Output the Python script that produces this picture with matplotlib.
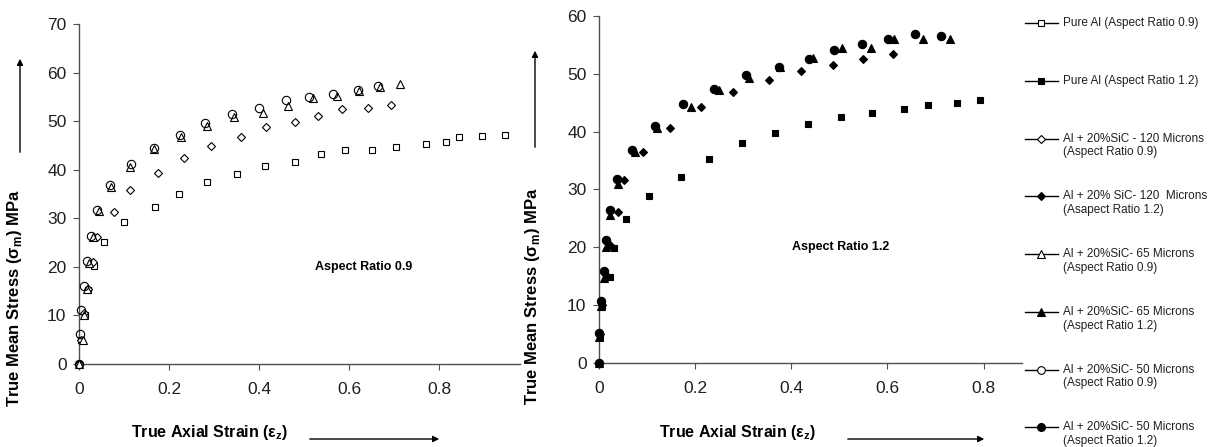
import matplotlib
matplotlib.use('Agg')
import matplotlib.pyplot as plt
from matplotlib.lines import Line2D

plt.rcParams['font.family'] = ['Liberation Sans', 'DejaVu Sans']

# aspect ratio 0.9 series
al09_x = [0, 0.004, 0.013, 0.021, 0.033, 0.055, 0.101, 0.168, 0.222, 0.284, 0.350, 0.414,
          0.479, 0.537, 0.591, 0.652, 0.705, 0.770, 0.816, 0.844, 0.895, 0.947]
al09_y = [0, 4.9, 10.1, 15.2, 20.2, 25.1, 29.2, 32.4, 35.1, 37.4, 39.2, 40.8,
          41.5, 43.2, 44.1, 44.1, 44.7, 45.3, 45.8, 46.8, 46.9, 47.1]
sic120_09_x = [0, 0.004, 0.012, 0.020, 0.030, 0.040, 0.077, 0.114, 0.176, 0.234, 0.294,
               0.359, 0.415, 0.479, 0.532, 0.585, 0.642, 0.693]
sic120_09_y = [0, 5.0, 10.4, 15.5, 21.0, 26.1, 31.3, 35.8, 39.3, 42.4, 44.9,
               46.7, 48.7, 49.8, 51.1, 52.4, 52.8, 53.3]
sic65_09_x = [0, 0.0096, 0.011, 0.0185, 0.023, 0.032, 0.045, 0.070, 0.114, 0.167, 0.226,
              0.284, 0.345, 0.409, 0.464, 0.519, 0.573, 0.622, 0.668, 0.713]
sic65_09_y = [0, 4.9, 10.1, 15.4, 20.7, 26.1, 31.4, 36.5, 40.6, 44.2, 46.8,
              48.9, 50.9, 51.7, 53.1, 54.8, 55.1, 56.3, 57.0, 57.6]
sic50_09_x = [0, 0.003, 0.005, 0.012, 0.018, 0.026, 0.041, 0.069, 0.116, 0.166, 0.225,
              0.281, 0.341, 0.401, 0.459, 0.512, 0.564, 0.621, 0.665]
sic50_09_y = [0, 6.1, 11.1, 16.1, 21.2, 26.4, 31.7, 36.8, 41.2, 44.4, 47.2,
              49.6, 51.4, 52.8, 54.4, 55.0, 55.6, 56.4, 57.2]

# aspect ratio 1.2 series
al12_x = [0, 0.002, 0.006, 0.022, 0.032, 0.057, 0.105, 0.170, 0.228, 0.297, 0.367, 0.435,
          0.503, 0.567, 0.635, 0.684, 0.745, 0.793]
al12_y = [0, 4.4, 9.8, 14.9, 19.8, 24.8, 28.9, 32.2, 35.3, 38.0, 39.7, 41.3,
          42.5, 43.2, 43.9, 44.6, 45.0, 45.5]
sic120_12_x = [0, 0.003, 0.007, 0.014, 0.022, 0.040, 0.053, 0.092, 0.148, 0.213, 0.278,
               0.353, 0.421, 0.487, 0.549, 0.611]
sic120_12_y = [0, 4.9, 10.0, 15.2, 20.3, 26.1, 31.6, 36.5, 40.7, 44.3, 46.8,
               48.9, 50.4, 51.5, 52.6, 53.4]
sic65_12_x = [0, 0.001, 0.005, 0.010, 0.014, 0.022, 0.040, 0.075, 0.121, 0.192, 0.249,
              0.312, 0.376, 0.445, 0.505, 0.566, 0.614, 0.675, 0.730]
sic65_12_y = [0, 4.5, 9.8, 14.6, 20.1, 25.6, 31.0, 36.4, 40.7, 44.3, 47.2,
              49.3, 51.1, 52.7, 54.4, 54.5, 56.0, 56.0, 56.0]
sic50_12_x = [0, 0.001, 0.005, 0.010, 0.015, 0.022, 0.038, 0.069, 0.117, 0.174, 0.240,
              0.305, 0.374, 0.436, 0.488, 0.547, 0.601, 0.657, 0.711]
sic50_12_y = [0, 5.1, 10.6, 15.9, 21.2, 26.4, 31.8, 36.8, 41.0, 44.7, 47.3,
              49.8, 51.2, 52.5, 54.1, 55.1, 56.0, 56.8, 56.5]

labels = ['Pure Al (Aspect Ratio 0.9)',
          'Pure Al (Aspect Ratio 1.2)',
          'Al + 20%SiC - 120 Microns\n(Aspect Ratio 0.9)',
          'Al + 20% SiC- 120  Microns\n(Asapect Ratio 1.2)',
          'Al + 20%SiC- 65 Microns\n(Aspect Ratio 0.9)',
          'Al + 20%SiC- 65 Microns\n(Aspect Ratio 1.2)',
          'Al + 20%SiC- 50 Microns\n(Aspect Ratio 0.9)',
          'Al + 20%SiC- 50 Microns\n(Aspect Ratio 1.2)']

# marker, size, filled
styles = [('s', 4.8, False), ('s', 5.0, True),
          ('D', 3.8, False), ('D', 4.2, True),
          ('^', 5.4, False), ('^', 5.6, True),
          ('o', 5.8, False), ('o', 6.0, True)]

W, H = 1220, 447
fig = plt.figure(figsize=(W / 100, H / 100), dpi=100)
ax1 = fig.add_axes([79 / W, 1 - 364 / H, 441 / W, 340 / H])
ax2 = fig.add_axes([599 / W, 1 - 362.7 / H, 423 / W, 346.7 / H])

spine_c = '#505050'


def mk(ax, x, y, st):
    m, s, filled = st
    ax.plot(x, y, linestyle='none', marker=m, ms=s, mec='black',
            mfc='black' if filled else 'white', mew=0.8, clip_on=False, zorder=3)


mk(ax1, al09_x, al09_y, styles[0])
mk(ax1, sic120_09_x, sic120_09_y, styles[2])
mk(ax1, sic65_09_x, sic65_09_y, styles[4])
ax1.plot(sic50_09_x, sic50_09_y, linestyle='none', marker='o', ms=6.0, mec='black',
         mfc='none', mew=0.8, clip_on=False, zorder=4)

mk(ax2, al12_x, al12_y, styles[1])
mk(ax2, sic120_12_x, sic120_12_y, styles[3])
mk(ax2, sic65_12_x, sic65_12_y, styles[5])
mk(ax2, sic50_12_x, sic50_12_y, styles[7])

for ax, ymax, xmax in [(ax1, 70, 0.98), (ax2, 60, 0.88)]:
    ax.set_xlim(0, xmax)
    ax.set_ylim(0, ymax)
    for side in ['top', 'right']:
        ax.spines[side].set_visible(False)
    for side in ['left', 'bottom']:
        ax.spines[side].set_color(spine_c)
        ax.spines[side].set_linewidth(1.0)
    ax.set_yticks(range(0, ymax + 1, 10))
    ax.set_xticks([0, 0.2, 0.4, 0.6, 0.8])
    ax.set_xticklabels(['0', '0.2', '0.4', '0.6', '0.8'])
    ax.tick_params(direction='out', length=4, color=spine_c, labelsize=12.5,
                   labelcolor='#202020')
    ax.tick_params(axis='x', pad=9)
    ax.tick_params(axis='y', pad=5)
    ax.patch.set_alpha(0)

ax1.text(0.524, 20, 'Aspect Ratio 0.9', fontsize=9, fontweight='bold', va='center')
ax2.text(0.401, 20.1, 'Aspect Ratio 1.2', fontsize=9, fontweight='bold', va='center')

# axis titles and arrows
ylab = 'True Mean Stress (σ$_\\mathregular{m}$) MPa'
xlab = 'True Axial Strain (ε$_\\mathregular{z}$)'
for xc, yc in [(15, 298), (532, 296)]:
    fig.text(xc / W, 1 - yc / H, ylab, rotation=90, ha='center', va='center',
             fontsize=12, fontweight='bold')
for xc in [210, 738]:
    fig.text(xc / W, 1 - 433 / H, xlab, ha='center', va='center',
             fontsize=11.5, fontweight='bold')

arrow_kw = dict(arrowstyle='-|>', color='black', lw=1.0, mutation_scale=9)
for (x0, y0), (x1, y1) in [((20, 155), (20, 56)), ((535, 150), (535, 48)),
                           ((307, 439), (442, 439)), ((845, 439), (987, 439))]:
    fig.add_artist(matplotlib.patches.FancyArrowPatch(
        (x0 / W, 1 - y0 / H), (x1 / W, 1 - y1 / H), transform=fig.transFigure, **arrow_kw))

# legend on the right
for i, (lab, st) in enumerate(zip(labels, styles)):
    yc = 23.3 + i * 57.7
    yf = 1 - yc / H
    fig.add_artist(Line2D([1025 / W, 1058 / W], [yf, yf], color='black', lw=1.0,
                          transform=fig.transFigure))
    m, s, filled = st
    fig.add_artist(Line2D([1041 / W], [yf], marker=m, ms=s * 0.95, mec='black',
                          mfc='black' if filled else 'white', mew=0.8,
                          transform=fig.transFigure))
    lines = lab.split('\n')
    for j, ln in enumerate(lines):
        fig.text(1063 / W, 1 - (yc + j * 13.7) / H, ln, fontsize=8.5, va='center',
                 ha='left', color='#202020')

fig.savefig('out.png', dpi=100)
